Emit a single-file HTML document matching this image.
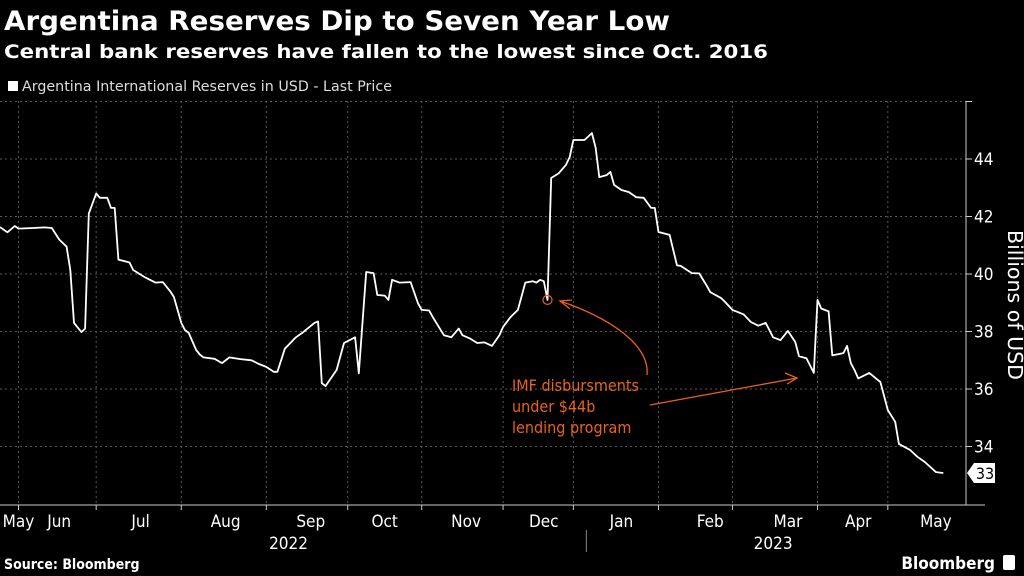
<!DOCTYPE html>
<html><head><meta charset="utf-8">
<style>
html,body{margin:0;padding:0;background:#000;}
svg{display:block;}
text{font-family:"DejaVu Sans","Liberation Sans",sans-serif;}
.cond{font-family:"DejaVu Sans Condensed","DejaVu Sans","Liberation Sans",sans-serif;}
</style></head>
<body>
<svg id="chart" width="1024" height="576" viewBox="0 0 1024 576" xmlns="http://www.w3.org/2000/svg">
<rect x="0" y="0" width="1024" height="576" fill="#000"/>
<text x="4" y="30" fill="#fff" font-size="27" font-weight="bold" textLength="666" lengthAdjust="spacingAndGlyphs">Argentina Reserves Dip to Seven Year Low</text>
<text x="4" y="58" fill="#fff" font-size="19" font-weight="bold" textLength="764" lengthAdjust="spacingAndGlyphs">Central bank reserves have fallen to the lowest since Oct. 2016</text>
<rect x="8" y="81" width="10" height="10" fill="#fff"/>
<text class="cond" x="22" y="91" fill="#ddd" font-size="14" textLength="370" lengthAdjust="spacingAndGlyphs">Argentina International Reserves in USD - Last Price</text>
<g id="grid"></g>
<g id="axes"></g>
<g id="series"></g>
<g id="annot">
<text class="cond" x="512" y="391" fill="#e8621e" font-size="16">IMF disbursments</text>
<text class="cond" x="512" y="412" fill="#e8621e" font-size="16">under $44b</text>
<text class="cond" x="512" y="433" fill="#e8621e" font-size="16">lending program</text>
<path d="M647,375 C650,345 610,318 560,301" fill="none" stroke="#e8621e" stroke-width="1.3"/>
<path d="M572,300 L560,301 L570,309" fill="none" stroke="#e8621e" stroke-width="1.3"/>
<path d="M650,405 L797,378" fill="none" stroke="#e8621e" stroke-width="1.3"/>
<path d="M785,373 L797,378 L787,384" fill="none" stroke="#e8621e" stroke-width="1.3"/>
</g>
<text class="cond" transform="translate(1008,305) rotate(90)" text-anchor="middle" fill="#fff" font-size="20" textLength="150" lengthAdjust="spacingAndGlyphs">Billions of USD</text>
<text class="cond" x="4" y="569" fill="#fff" font-size="14" font-weight="bold">Source: Bloomberg</text>
<text class="cond" x="995" y="569" text-anchor="end" fill="#fff" font-size="17" font-weight="bold">Bloomberg</text>
<rect x="1003" y="555" width="12" height="15" rx="2" fill="#fff"/>
</svg>
<script>
const days = [0,2,4,5,9,12,14,16,18,19,20,22,23,24,26,27,29,30,31,32,35,36,39,42,44,46,47,49,50,51,53,54,55,58,60,62,65,68,70,72,74,75,77,80,82,85,86,87,88,91,93,96,97,99,101,102,104,105,106,108,111,113,114,116,117,120,122,124,125,127,129,131,133,135,136,138,140,142,144,145,146,147,148,149,151,153,154,155,158,160,161,162,164,165,166,168,170,172,174,176,177,178,181,183,184,187,189,191,192,195,196,198,201,203,205,207,209,211,213,215,216,218,220,221,222,224,225,228,229,230,231,232,235,238,240,242,243,246,248,250,253,255];
const reserves = [41.63,41.45,41.67,41.58,41.6,41.62,41.6,41.2,40.95,40.14,38.3,37.98,38.1,42.1,42.8,42.65,42.65,42.3,42.3,40.5,40.4,40.14,39.9,39.7,39.72,39.4,39.2,38.3,38.05,37.95,37.36,37.2,37.1,37.05,36.9,37.1,37.04,37.0,36.87,36.77,36.6,36.6,37.4,37.8,37.98,38.3,38.35,36.2,36.1,36.66,37.6,37.8,36.55,40.07,40.03,39.27,39.25,39.1,39.8,39.7,39.72,38.98,38.75,38.73,38.5,37.87,37.8,38.1,37.87,37.76,37.6,37.62,37.5,37.87,38.16,38.5,38.75,39.7,39.75,39.7,39.8,39.75,39.1,43.34,43.5,43.8,44.07,44.66,44.66,44.9,44.4,43.37,43.44,43.55,43.1,42.92,42.85,42.67,42.65,42.3,42.3,41.46,41.36,40.3,40.28,40.03,40.02,39.6,39.37,39.16,39.03,38.75,38.6,38.33,38.2,38.3,37.8,37.7,38.02,37.63,37.14,37.07,36.56,39.1,38.8,38.7,37.17,37.25,37.5,36.9,36.66,36.37,36.56,36.24,35.27,34.86,34.09,33.88,33.64,33.46,33.11,33.08];
const yTicks = [34,36,38,40,42,44,46];
const yTickLabels = ["34","36","38","40","42","44",""];
const monthStarts = [5,26,49,72,94,114,136,155,178,198,221,240];
const monthLabels = ["May","Jun","Jul","Aug","Sep","Oct","Nov","Dec","Jan","Feb","Mar","Apr","May"];
const monthLabelDays = [5,16,38,61,84,104,126,147,168,192,213,232,253];
const yearLabels = ["2022","2023"];
const yearLabelDays = [78,209];
const yearBoundaryDay = 158.5;
const annotDay = 148;
const lastValue = 33.08;

const NS="http://www.w3.org/2000/svg";
const X0=0, X1=947, D0=0, D1=256;
const x = d => X0 + (d-D0)/(D1-D0)*(X1-X0);
const y = v => 159 + (44-v)*28.75;
function mk(tag, attrs, parent){const e=document.createElementNS(NS,tag);for(const k in attrs)e.setAttribute(k,attrs[k]);parent.appendChild(e);return e;}
const grid=document.getElementById('grid'), axes=document.getElementById('axes'), series=document.getElementById('series');
yTicks.forEach((t,i)=>{
  const g=mk('line',{x1:0,x2:966,y1:y(t),y2:y(t),stroke:'#5a5a5a','stroke-width':1,'stroke-dasharray':'2,3'},grid);
  
  
  const tk=mk('line',{x1:966,x2:972,y1:y(t),y2:y(t),stroke:'#ccc','stroke-width':1},axes);
  
  
  if(yTickLabels[i]){
    const tl=mk('text',{x:974,y:y(t)+6,fill:'#fff','font-size':17,class:'cond'},axes);
    tl.textContent=yTickLabels[i];
    
    
  }
});
monthStarts.forEach(d=>{
  const g=mk('line',{x1:x(d),x2:x(d),y1:101,y2:505,stroke:'#5a5a5a','stroke-width':1,'stroke-dasharray':'2,3'},grid);
  
  
  const tk=mk('line',{x1:x(d),x2:x(d),y1:505,y2:510,stroke:'#ccc','stroke-width':1},axes);
  
  
});
const ya=mk('line',{x1:966,x2:966,y1:101,y2:505,stroke:'#ccc','stroke-width':1},axes);


const xa=mk('line',{x1:0,x2:985,y1:505,y2:505,stroke:'#ccc','stroke-width':1},axes);


monthLabels.forEach((m,i)=>{
  const t=mk('text',{x:x(monthLabelDays[i]),y:527,fill:'#fff','font-size':17,'text-anchor':'middle',class:'cond'},axes);
  t.textContent=m;
  
  
});
yearLabels.forEach((m,i)=>{
  const t=mk('text',{x:x(yearLabelDays[i]),y:549,fill:'#fff','font-size':17,'text-anchor':'middle',class:'cond'},axes);
  t.textContent=m;
  
  
});
const sep=mk('line',{x1:x(yearBoundaryDay),x2:x(yearBoundaryDay),y1:530,y2:552,stroke:'#888','stroke-width':1},axes);


const pts=days.map((d,i)=>x(d).toFixed(1)+','+y(reserves[i]).toFixed(1)).join(' ');
const line=mk('polyline',{points:pts,fill:'none',stroke:'#fff','stroke-width':1.8,'stroke-linejoin':'round'},series);


const ai=days.indexOf(annotDay);
const c=mk('circle',{cx:x(annotDay),cy:y(reserves[ai]),r:4.5,fill:'none',stroke:'#e8621e','stroke-width':1.2},series);


const ly=y(lastValue);
const lb=mk('path',{d:`M967,${ly} L974,${ly-10} L995,${ly-10} L995,${ly+10} L974,${ly+10} Z`,fill:'#fff'},axes);


const lt=mk('text',{x:985,y:ly+6,fill:'#000','font-size':16,'text-anchor':'middle',class:'cond'},axes);
lt.textContent=Math.round(lastValue);


</script>
</body></html>
